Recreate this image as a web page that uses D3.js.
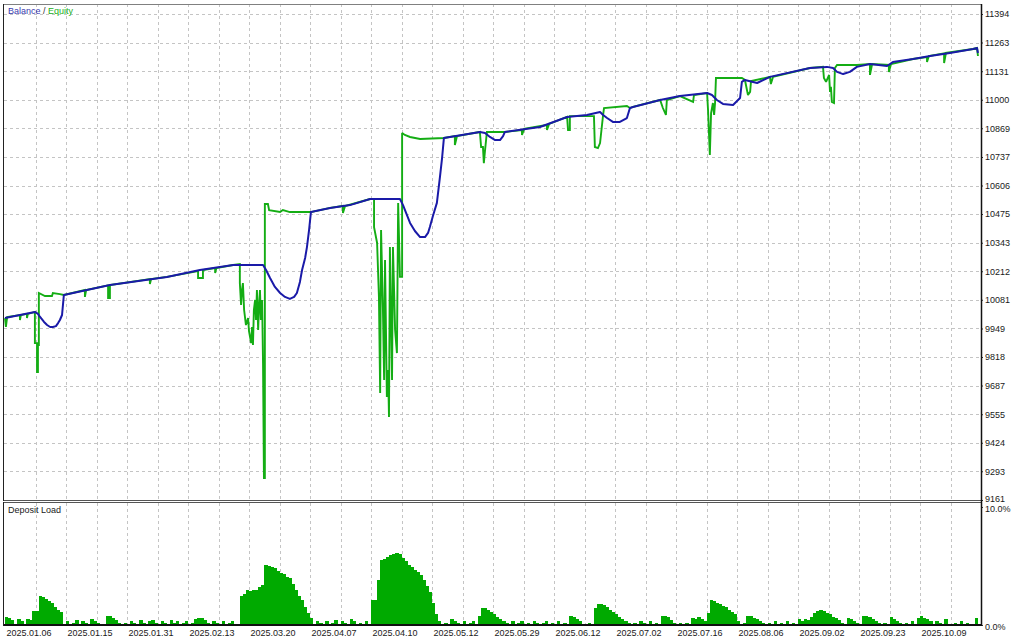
<!DOCTYPE html>
<html><head><meta charset="utf-8">
<script src="https://cdn.jsdelivr.net/npm/d3@7/dist/d3.min.js"></script>
<style>
body{margin:0;background:#fff}
svg{display:block}
text{font-family:"Liberation Sans",Arial,sans-serif;font-size:9px;fill:#1a1a1a}
</style>
</head><body><svg id="c" width="1024" height="640"></svg>
<script>
// ---- data ----
const yTicks = [9161, 9293, 9424, 9555, 9687, 9818, 9949, 10081, 10212, 10343, 10475, 10606, 10737, 10869, 11000, 11131, 11263, 11394];
const loadTicks = [0, 10];
const dateLabels = ["2025.01.06","2025.01.15","2025.01.31","2025.02.13","2025.03.20","2025.04.07","2025.04.10","2025.05.12","2025.05.29","2025.06.12","2025.07.02","2025.07.16","2025.08.06","2025.09.02","2025.09.23","2025.10.09"];
const dateIdx = [0,20,40,60,80,100,120,140,160,180,200,220,240,260,280,300];
const gridIdx = [10,20,30,40,50,60,70,80,90,100,110,120,130,140,150,160,170,180,190,200,210,220,230,240,250,260,270,280,290,300,310];

// [deal index, balance]
const balance = [
[0,9997],[9.8,10025],[10.8,10016],[11.5,10002],[12.8,9979],[13.8,9965],[14.8,9956],[15.7,9956],[16.7,9960],[17.4,9974],[18.0,9988],[18.7,10011],[19.0,10057],[19.3,10103],
[34.4,10149],[53.1,10186],[63.9,10218],[74.8,10241],[84.6,10241],[85.6,10218],[86.9,10181],[88.5,10140],[90.2,10112],[91.8,10094],[93.4,10085],[94.8,10094],[95.7,10112],[96.7,10163],[97.4,10218],[98.4,10273],[99.0,10323],[99.7,10402],[100.3,10484],
[106.6,10503],[113.1,10516],[119.7,10544],[129.5,10544],[130.5,10516],[131.5,10480],[132.8,10434],[134.4,10397],[136.1,10369],[137.7,10369],[138.7,10388],[139.3,10415],[140.3,10466],[141.6,10526],[142.6,10645],[143.3,10732],[143.9,10824],
[155.7,10852],[157.4,10847],[159.0,10829],[160.7,10815],[162.3,10815],[163.3,10833],[163.9,10852],[175.4,10875],[184.3,10921],[190.8,10930],[195.1,10944],[196.1,10930],[197.4,10916],[199.3,10898],[201.6,10898],[203.9,10916],[204.9,10962],[205.9,10967],
[214.8,10999],[221.3,11017],[230.2,11031],[231.8,11022],[233.4,10999],[235.4,10981],[238.7,10976],[241.0,11008],[241.6,11082],[242.6,11091],[246.6,11077],[250.8,11105],
[263.9,11146],[269.5,11151],[271.5,11146],[272.8,11128],[274.8,11118],[277.0,11128],[279.3,11151],[283.6,11164],[289.2,11155],[291.1,11173],[297.7,11187],[303.3,11201],[309.8,11215],[317.4,11233],[318.7,11238],[319.0,11215]
];

// [deal index, equity]
const equity = [
[0,9997],[0.3,9956],[0.7,10002],[4.9,10011],[4.9,9988],[5.2,10011],[7.2,10016],[7.2,9997],[7.5,10016],[9.8,10025],
[9.8,9882],[10.5,9882],[10.5,9749],[10.8,9749],[10.8,9873],[11.1,9873],[11.1,10112],[13.1,10098],[15.4,10098],[15.7,10112],[18.0,10107],[19.3,10103],
[26.2,10126],[26.2,10094],[26.6,10126],[33.8,10147],[33.8,10089],[34.4,10089],[34.4,10149],[47.5,10176],[47.5,10153],[47.9,10176],[53.1,10186],
[63.3,10213],[63.3,10181],[64.9,10181],[64.9,10218],[68.9,10227],[68.9,10204],[69.3,10227],[74.8,10241],[77.0,10245],
[77.0,10158],[77.4,10057],[77.7,10126],[78.0,10158],[78.4,10034],[79.0,9965],[79.7,9997],[80.0,9937],[80.7,9882],[81.0,9956],[81.3,9873],[81.6,10034],[82.0,10080],[82.3,9988],[82.6,10126],[83.0,9942],[83.3,10057],[83.6,10126],[83.9,9988],[84.3,10080],[84.6,9790],[84.9,9262],[85.2,9262],
[85.2,10521],[86.2,10521],[86.6,10493],[90.2,10484],[91.1,10493],[93.4,10484],[100.3,10484],[106.6,10503],[110.8,10512],[110.8,10480],[111.5,10512],[119.7,10544],[121.0,10544],
[121.0,10415],[122.0,10342],[122.6,10094],[123.0,9653],[123.3,10402],[123.9,10048],[124.3,9712],[124.6,10264],[125.2,9634],[125.6,9758],[125.9,9542],[126.2,10323],[126.9,9712],[127.2,10323],[127.9,9942],[128.5,9836],[128.9,10526],[129.5,10186],[130.2,10186],
[130.2,10847],[131.1,10838],[132.8,10829],[136.1,10820],[143.9,10824],[147.5,10833],[147.5,10792],[148.2,10833],[155.7,10852],[156.1,10783],[156.7,10783],[157.0,10709],[157.4,10769],[158.0,10852],[163.9,10852],
[169.5,10861],[169.5,10838],[170.2,10866],[177.7,10884],[177.7,10861],[178.4,10889],[184.3,10921],[184.6,10861],[185.2,10861],[185.2,10925],[193.1,10925],[193.4,10783],[194.4,10778],[195.1,10801],[196.1,10930],[196.4,10962],[203.9,10971],[204.9,10962],[205.9,10967],
[214.8,10999],[215.7,10962],[216.7,10930],[217.0,10999],[221.3,11017],[225.6,10990],[225.9,11022],[230.2,11031],[230.5,10953],[231.1,10746],[231.5,10939],[232.1,10985],[232.5,10930],[232.8,10985],[233.1,11100],[241.6,11100],[242.6,11091],[243.6,11022],[244.3,11036],[244.6,11086],[250.8,11105],[251.1,11072],[251.8,11105],
[263.9,11146],[268.2,11151],[268.5,11100],[269.2,11082],[270.2,11114],[270.5,11036],[270.8,11059],[271.1,10990],[271.8,10985],[272.1,11146],[272.8,11160],[279.3,11160],[283.6,11164],[283.6,11114],[284.3,11164],[289.8,11160],[289.8,11128],[290.5,11164],
[297.7,11187],[302.3,11196],[302.3,11173],[302.9,11201],[307.9,11213],[307.9,11169],[308.5,11215],[317.4,11233],[318.7,11238],[319.0,11201]
];

// deposit load (%) per deal index 0..319
const depositLoad = [
0.7,0.6,0.4,0,0.5,0.3,0,0.5,0.4,1.2,
1.2,2.5,2.4,2.2,2.0,1.9,1.5,1.3,1.1,0,
0.3,0,0.2,0.4,0,0.3,0.2,0,0.5,0.3,
0.2,0,0,0.8,0.8,0.6,0.4,0.2,0,0.2,
0,0.3,0.2,0,0.4,0.2,0,0.3,0.4,0.2,
0,0.3,0.2,0,0.4,0.2,0.3,0,0.2,0.3,
0,0.2,0.5,0.6,0.6,0.4,0.2,0,0.3,0.2,
0,0.3,0,0.2,0.3,0,0,2.5,2.6,3.0,
2.9,3.0,3.0,3.2,3.4,5.1,5.0,4.9,4.8,4.6,
4.4,4.3,4.1,4.0,3.5,3.0,2.5,2.1,1.5,1.0,
0.6,0,0.3,0.2,0,0.3,0,0.2,0.4,0,
0.3,0.2,0,0.5,0.3,0,0.2,0,0.3,0,
2.1,2.1,3.8,5.5,5.6,5.8,5.9,6.0,6.1,6.0,
5.7,5.4,5.1,4.9,4.7,4.5,4.2,3.8,3.3,2.8,
1.9,0.9,0.3,0,0.2,0,0.5,0.3,0.2,0,
0.3,0,0.2,0.3,0,0.8,1.4,1.4,1.3,1.1,
0.9,0.7,0.5,0.3,0.2,0,0.3,0,0.2,0.3,
0,0.2,0,0.3,0.2,0,0.2,0.3,0,0.2,
0,0.3,0,0.2,0,0.8,0.7,0.5,0.3,0.1,
0,0.2,0,1.4,1.8,1.8,1.7,1.5,1.3,1.1,
0.9,0.7,0.5,0.3,0.2,0,0.2,0,0.3,0.2,
0,0.3,0,0.2,0,0.8,0.8,0.7,0.4,0.2,
0,0.2,0,0.2,0,0.6,0.5,0.7,0.5,0.3,
1.0,2.1,2.0,1.9,1.8,1.6,1.5,1.3,1.1,0.9,
0.3,0,0.2,0.8,0.8,0.6,0.5,0.3,0.2,0,
0.2,0,0.3,0,0.2,0,0.3,0,0.2,0,
0.5,0.3,0.5,0.4,0.7,1.0,1.2,1.3,1.2,1.0,
0.9,0.7,0.6,0.4,0.2,0,0.6,0.5,0.3,0.2,
0,0.8,0.8,0.7,0.5,0.3,0.2,0,0.2,0,
0.7,0.5,0.3,0.2,0,0.2,0,0.3,0,0.6,
0.8,0.6,0.5,0.3,0,0.3,0.2,0,0.5,0,
0,0.2,0,0.3,0,0.2,0,0,0.6,0
];

// ---- layout ----
const L = 4, R = 981, mainTop = 4, mainBot = 500, lowTop = 503, lowBot = 625;
const svg = d3.select("#c");
svg.append("rect").attr("width",1024).attr("height",640).attr("fill","#fff");

const x = d3.scaleLinear().domain([0,320]).range([5,981]);
const y = d3.scaleLinear().domain([9161,11394]).range([500,14]);
const yl = d3.scaleLinear().domain([0,10]).range([625,507]);

const gridStyle = g => g.attr("stroke","#c4c4c4").attr("stroke-width",1).attr("stroke-dasharray","3,3").attr("shape-rendering","crispEdges");

svg.append("g").call(gridStyle).selectAll("line").data(yTicks.filter(v=>v!==9161)).join("line")
  .attr("x1",L).attr("x2",R).attr("y1",d=>Math.round(y(d))+0.5).attr("y2",d=>Math.round(y(d))+0.5);
const vg = svg.append("g").call(gridStyle);
vg.selectAll("line.m").data(gridIdx).join("line").attr("class","m")
  .attr("x1",d=>Math.round(x(d))+0.5).attr("x2",d=>Math.round(x(d))+0.5).attr("y1",mainTop).attr("y2",mainBot);
vg.selectAll("line.l").data(gridIdx).join("line").attr("class","l")
  .attr("x1",d=>Math.round(x(d))+0.5).attr("x2",d=>Math.round(x(d))+0.5).attr("y1",lowTop).attr("y2",lowBot);

svg.append("clipPath").attr("id","mc").append("rect").attr("x",L).attr("y",mainTop).attr("width",R-L).attr("height",mainBot-mainTop);

const line = d3.line().x(d=>x(d[0])).y(d=>y(d[1]));
const plot = svg.append("g").attr("clip-path","url(#mc)");
plot.append("path").datum(equity).attr("d",line).attr("fill","none").attr("stroke","#14ad14").attr("stroke-width",1.9).attr("stroke-linejoin","miter").attr("stroke-miterlimit",2);
plot.append("path").datum(balance).attr("d",line).attr("fill","none").attr("stroke","#1a1aa8").attr("stroke-width",2).attr("stroke-linejoin","round");

const bw = x(1)-x(0);
svg.append("g").selectAll("rect").data(depositLoad).join("rect")
  .attr("x",(d,i)=>x(i)).attr("width",bw+0.3)
  .attr("y",d=>yl(d)).attr("height",d=>yl(0)-yl(d))
  .attr("fill","#00aa00").attr("shape-rendering","crispEdges");

const fr = svg.append("g").attr("fill","none").attr("shape-rendering","crispEdges");
fr.append("line").attr("x1",L).attr("x2",R).attr("y1",4.5).attr("y2",4.5).attr("stroke","#808080");
fr.append("line").attr("x1",L).attr("x2",R).attr("y1",500.5).attr("y2",500.5).attr("stroke","#555");
fr.append("line").attr("x1",L).attr("x2",R).attr("y1",502.5).attr("y2",502.5).attr("stroke","#555");
fr.append("line").attr("x1",3.5).attr("x2",3.5).attr("y1",4).attr("y2",501).attr("stroke","#222");
fr.append("line").attr("x1",3.5).attr("x2",3.5).attr("y1",502).attr("y2",626).attr("stroke","#222");

const yAxis = d3.axisRight(y).tickValues(yTicks).tickSize(2).tickPadding(2).tickFormat(d3.format("d"));
const ga = svg.append("g").attr("transform",`translate(${R},0)`).call(yAxis);
const lAxis = d3.axisRight(yl).tickValues(loadTicks).tickSize(2).tickPadding(2).tickFormat(d=>d.toFixed(1)+"%");
const gl = svg.append("g").attr("transform",`translate(${R},0)`).call(lAxis);
gl.selectAll(".tick").filter(d=>d===10).select("text").attr("dy","0.55em");
gl.selectAll(".tick").filter(d=>d===0).select("text").attr("dy","0.45em");
ga.selectAll(".tick").filter(d=>d===9161).select("text").attr("dy","0.2em");
[ga,gl].forEach(g=>{
  g.select(".domain").remove();
  g.selectAll(".tick line").attr("stroke","#333");
  g.selectAll("text").attr("font-family","'Liberation Sans',Arial,sans-serif").attr("font-size",9).attr("fill","#1a1a1a");
});
svg.append("line").attr("x1",R+0.5).attr("x2",R+0.5).attr("y1",4).attr("y2",626).attr("stroke","#111").attr("stroke-width",1.5);

const xAxis = d3.axisBottom(x).tickValues(dateIdx).tickSize(0).tickPadding(5).tickFormat((d,i)=>dateLabels[i]);
const gx = svg.append("g").attr("transform",`translate(0,${lowBot})`).call(xAxis);
gx.select(".domain").remove();
gx.selectAll("text").attr("text-anchor","start").attr("dx","1").attr("font-family","'Liberation Sans',Arial,sans-serif").attr("font-size",9).attr("fill","#1a1a1a");
svg.append("line").attr("x1",L).attr("x2",R+1).attr("y1",625).attr("y2",625).attr("stroke","#111").attr("stroke-width",2);

const t = svg.append("text").attr("x",8).attr("y",14);
t.append("tspan").attr("fill","#3a3ab0").text("Balance");
t.append("tspan").attr("fill","#333").text(" / ");
t.append("tspan").attr("fill","#22b022").text("Equity");
svg.append("text").attr("x",8).attr("y",513).attr("fill","#111").text("Deposit Load");
</script>
</body></html>
